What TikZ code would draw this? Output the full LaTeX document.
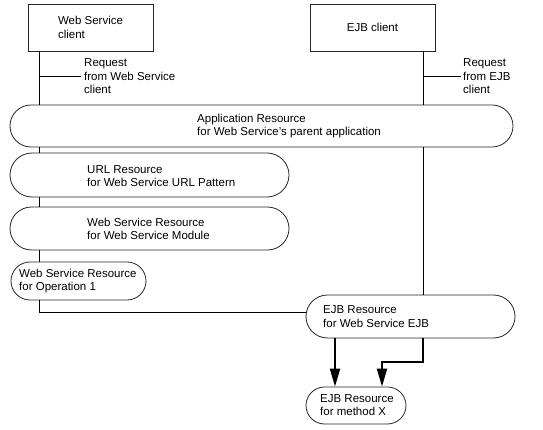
\documentclass[tikz,border=0pt]{standalone}
\usepackage{fontspec}
\setmainfont{Liberation Sans}
\usetikzlibrary{shapes.misc,arrows.meta}
\begin{document}
\begin{tikzpicture}[x=1pt,y=-1pt,
  every node/.style={font=\fontsize{11.5}{13.5}\selectfont},
  clientbox/.style={draw=black!85,line width=0.8pt,rectangle,minimum width=125pt,minimum height=47pt,inner sep=0pt,align=left},
  resbox/.style={draw=black!85,line width=0.8pt,rounded rectangle,inner sep=0pt},
  lbl/.style={anchor=west,align=left,inner sep=0pt},
  conn/.style={line width=1pt,black},
  arr/.style={line width=2pt,black,-{Triangle[length=18pt,width=10pt]}}]
\useasboundingbox[fill=white] (0,0) rectangle (543,430);
% clients
\node[clientbox] (wsc) at (90.5,27.5) {Web Service\\client};
\node[clientbox] (ejbc) at (372.5,27.5) {EJB client};
% resources
\node[resbox,minimum width=503pt,minimum height=42pt] (app) at (261.5,126) {};
\node[resbox,minimum width=279pt,minimum height=44pt] (url) at (149.5,175) {};
\node[resbox,minimum width=279pt,minimum height=43pt] (wsr) at (149.5,228.5) {};
\node[resbox,minimum width=135pt,minimum height=38pt] (op1) at (78.5,281) {};
\node[resbox,minimum width=209pt,minimum height=43pt] (ejbr) at (410.5,316.5) {};
\node[resbox,minimum width=100pt,minimum height=37pt] (mx) at (356,405.5) {};
% labels
\node[lbl] (appt) at (197,126) {Application Resource\\for Web Service's parent application};
\node[lbl] (urlt) at (87,176) {URL Resource\\for Web Service URL Pattern};
\node[lbl] (wsrt) at (87,229) {Web Service Resource\\for Web Service Module};
\node[lbl] (op1t) at (19,281) {Web Service Resource\\for Operation 1};
\node[lbl] (ejbrt) at (323,316.5) {EJB Resource\\for Web Service EJB};
\node[lbl] (mxt) at (320,405) {EJB Resource\\for method X};
\node[lbl] (reqw) at (84,76.5) {Request\\from Web Service\\client};
\node[lbl] (reqe) at (463,76.5) {Request\\from EJB\\client};
% helper coordinates
\coordinate (lx) at (39,0);
\coordinate (rx) at (423,0);
\coordinate (ax) at (335,0);
\coordinate (bend) at (382,362);
\coordinate (tw) at (39,77);
\coordinate (twe) at (81,77);
\coordinate (te) at (423,77);
\coordinate (tee) at (461,77);
% left request path
\draw[conn] (wsc.south -| lx) -- (app.north -| lx);
\draw[conn] (tw) -- (twe);
\draw[conn] (app.south -| lx) -- (url.north -| lx);
\draw[conn] (url.south -| lx) -- (wsr.north -| lx);
\draw[conn] (wsr.south -| lx) -- (op1.north -| lx);
\draw[conn] (op1.south -| lx) |- ([yshift=4.5pt]ejbr.west);
% right request path
\draw[conn] (ejbc.south -| rx) -- (app.north -| rx);
\draw[conn] (te) -- (tee);
\draw[conn] (app.south -| rx) -- (ejbr.north -| rx);
% arrows to method X
\draw[arr] (ejbr.south -| ax) -- (mx.north -| ax);
\draw[arr] (ejbr.south -| rx) |- (bend) -- (mx.north -| bend);
\end{tikzpicture}
\end{document}
